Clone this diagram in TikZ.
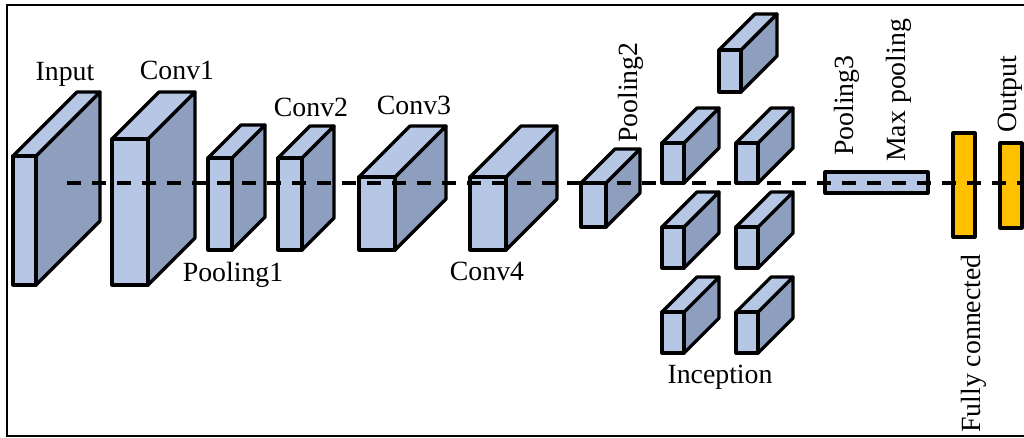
\documentclass[tikz,border=0pt]{standalone}
\usepackage{fontspec}
\setmainfont{Liberation Serif}
\definecolor{frontblue}{RGB}{182,199,230}
\definecolor{sideblue}{RGB}{142,158,190}
\definecolor{fcorange}{RGB}{255,192,0}
\tikzset{
  edge/.style={draw=black, line width=3.2pt, line join=round},
  flow/.style={draw=black, line width=3.6pt, dash pattern=on 14pt off 11pt},
  lbl/.style={inner sep=0pt, font=\fontsize{27.8}{30}\selectfont},
  vlbl/.style={lbl, rotate=90, anchor=base west},
  frame/.style={draw=black, line width=2.2pt}
}
% cuboid: name, front x-left, x-right, y-top, y-bottom, depth
\newcommand{\drawblock}[6]{%
  \draw[edge, fill=sideblue] (#3,#4) -- ++(#6,-#6) -- ++(0,#5-#4) -- (#3,#5) -- cycle;
  \draw[edge, fill=frontblue] (#2,#4) -- ++(#6,-#6) -- ++(#3-#2,0) -- (#3,#4) -- cycle;
  \draw[edge, fill=frontblue] (#2,#4) rectangle (#3,#5);
  \coordinate (#1) at ({(#2+#3)/2},{(#4+#5)/2});
}
\begin{document}
\begin{tikzpicture}[x=1pt,y=-1pt]
\useasboundingbox (0,0) rectangle (1024,438);
\fill[white] (0,0) rectangle (1024,438);
\draw[frame] (1026,5) -- (7,5) -- (7,436) -- (1026,436);

% feature extractor
\drawblock{input}{13}{36}{156}{285}{64}
\drawblock{conv1}{112}{148}{139}{285}{47}
\drawblock{pool1}{208}{232}{158}{250}{33}
\drawblock{conv2}{278}{302}{158}{250}{32}
\drawblock{conv3}{359}{395}{177}{250}{51}
\drawblock{conv4}{470}{506}{177}{250}{51}
\drawblock{pool2}{581}{606}{183}{227}{34}

% inception module
\drawblock{incA}{719}{741}{50}{92}{36}
\drawblock{incB}{662}{684}{143}{183}{35}
\drawblock{incC}{736}{758}{143}{183}{35}
\drawblock{incD}{662}{684}{227}{268}{35}
\drawblock{incE}{736}{758}{227}{268}{35}
\drawblock{incF}{662}{684}{312}{353}{35}
\drawblock{incG}{736}{758}{312}{353}{35}

% pooling bar and dense layers
\node[edge, fill=frontblue, minimum width=103pt, minimum height=21pt, inner sep=0pt] (pool3) at (876.5,182.5) {};
\node[edge, fill=fcorange, minimum width=22pt, minimum height=104pt, inner sep=0pt] (fc) at (964,185) {};
\node[edge, fill=fcorange, minimum width=22pt, minimum height=85pt, inner sep=0pt] (out) at (1011,185.5) {};

% data flow
\coordinate (flowstart) at (67,183);
\coordinate (flowend) at (1024,183);
\draw[flow] (flowstart) -- (flowend);

% labels
\node[lbl, anchor=base] (tInput) at (65,81) {Input};
\node[lbl, anchor=base] (tConv1) at (177,80) {Conv1};
\node[lbl, anchor=base] (tConv2) at (311,117) {Conv2};
\node[lbl, anchor=base] (tPool1) at (233,281) {Pooling1};
\node[lbl, anchor=base] (tConv3) at (414,115) {Conv3};
\node[lbl, anchor=base] (tConv4) at (487,280) {Conv4};
\node[lbl, anchor=base] (tIncep) at (720,383) {Inception};
\node[vlbl] (tPool2) at (637,143) {Pooling2};
\node[vlbl] (tPool3) at (853,156) {Pooling3};
\node[vlbl] (tMax) at (905,162) {Max pooling};
\node[vlbl] (tFC) at (980,433) {Fully connected};
\node[vlbl] (tOut) at (1016,133) {Output};
\end{tikzpicture}
\end{document}
